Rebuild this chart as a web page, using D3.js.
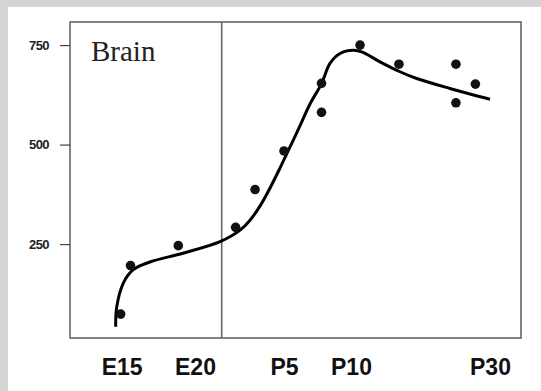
<!DOCTYPE html>
<html>
<head>
<meta charset="utf-8">
<script src="https://cdn.jsdelivr.net/npm/d3@7"></script>
<style>
  body { margin: 0; background: #fff; }
  svg { display: block; }
  .ylab text { font-family: "Liberation Sans", Arial, sans-serif; font-weight: bold; font-size: 13px; letter-spacing: -0.6px; fill: #222; }
  .xlab text { font-family: "Liberation Sans", Arial, sans-serif; font-weight: bold; font-size: 23px; fill: #111; }
</style>
</head>
<body>
<div id="chart"></div>
<script>
// age in days after conception (P0 taken as day 21)
const stageLabels = ["E15", "E20", "P5", "P10", "P30"];
const stageAges = [15, 20, 26, 31, 51];
const birthAge = 21.8;

const yTicks = [250, 500, 750];

// measured samples (age, value)
const sampleAge = [14.93, 15.6, 18.86, 22.74, 24.05, 26.0, 28.8, 28.8, 32.3, 37.9, 46.1, 46.1, 48.9];
const sampleVal = [74, 196, 246, 292, 387, 484, 654, 581, 750, 702, 702, 605, 652];

// fitted curve
const fitAge = [14.59, 14.66, 15.11, 15.77, 16.93, 19.18, 21.69, 23.04, 23.71, 24.39, 25.06, 25.73, 26.45, 27.19, 27.94, 28.81, 29.43, 30.18, 31.33, 32.54, 35.17, 38.05, 40.45, 45.24, 51];
const fitVal = [42, 92, 152, 185, 205, 227, 256, 285, 310, 346, 391, 441, 494, 547, 602, 654, 704, 729, 737, 733, 708, 683, 666, 641, 614];

const W = 541, H = 391;
const box = { left: 70, right: 521, top: 22, bottom: 338 };

const svg = d3.select("#chart").append("svg")
  .attr("width", W)
  .attr("height", H);

// grey frame of the scanned figure
svg.append("rect").attr("x", 0).attr("y", 0).attr("width", W).attr("height", 7).attr("fill", "#d4d4d4");
svg.append("rect").attr("x", 0).attr("y", 0).attr("width", 8).attr("height", H).attr("fill", "#d4d4d4");

// x axis is stretched unevenly in the original, so use a polylinear scale
const x = d3.scaleLinear()
  .domain(stageAges)
  .range([121.7, 195, 284, 351, 490]);

const y = d3.scaleLinear()
  .domain([14, 808])
  .range([box.bottom, box.top]);

// plot frame
svg.append("rect")
  .attr("x", box.left)
  .attr("y", box.top)
  .attr("width", box.right - box.left)
  .attr("height", box.bottom - box.top)
  .attr("fill", "none")
  .attr("stroke", "#666")
  .attr("stroke-width", 1.6);

// birth line
svg.append("line")
  .attr("x1", x(birthAge)).attr("x2", x(birthAge))
  .attr("y1", box.top).attr("y2", box.bottom)
  .attr("stroke", "#666")
  .attr("stroke-width", 1.6);

// y axis
const yAxis = svg.append("g")
  .attr("class", "ylab")
  .attr("transform", "translate(" + box.left + ",0)")
  .call(d3.axisLeft(y).tickValues(yTicks).tickSize(10).tickPadding(11));
yAxis.select(".domain").remove();
yAxis.selectAll("line").attr("stroke", "#444").attr("stroke-width", 1.2);

// x labels
const xAxis = svg.append("g")
  .attr("class", "xlab")
  .attr("transform", "translate(0," + box.bottom + ")")
  .call(d3.axisBottom(x).tickValues(stageAges).tickSize(0).tickPadding(21)
    .tickFormat(function(d, i) { return stageLabels[i]; }));
xAxis.select(".domain").remove();
xAxis.attr("font-family", null).attr("font-size", null);
yAxis.attr("font-family", null).attr("font-size", null);

// fitted curve
const fit = fitAge.map(function(a, i) { return { age: a, v: fitVal[i] }; });
const line = d3.line()
  .x(function(d) { return x(d.age); })
  .y(function(d) { return y(d.v); })
  .curve(d3.curveCatmullRom.alpha(0.5));

svg.append("path")
  .datum(fit)
  .attr("d", line)
  .attr("fill", "none")
  .attr("stroke", "#000")
  .attr("stroke-width", 3);

// data points
const pts = sampleAge.map(function(a, i) { return { age: a, v: sampleVal[i] }; });
svg.selectAll(".dot")
  .data(pts)
  .enter()
  .append("circle")
  .attr("class", "dot")
  .attr("cx", function(d) { return x(d.age); })
  .attr("cy", function(d) { return y(d.v); })
  .attr("r", 4.8)
  .attr("fill", "#111");

// panel title
svg.append("text")
  .attr("x", 91)
  .attr("y", 61)
  .attr("font-family", "'Liberation Serif', 'Times New Roman', serif")
  .attr("font-size", 29)
  .attr("fill", "#222")
  .text("Brain");
</script>
</body>
</html>
